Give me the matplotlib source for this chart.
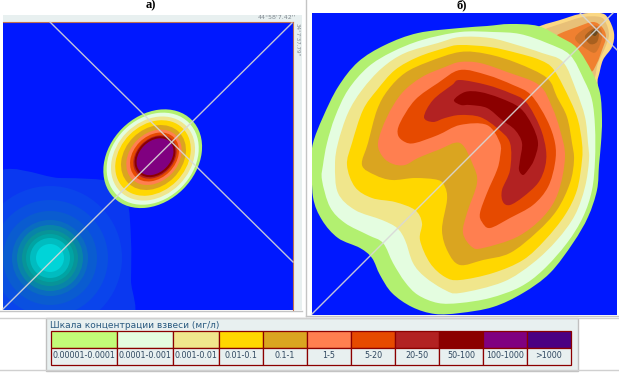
# Suspended matter concentration maps, panels a) and b), with the colour scale below
import numpy as np
import matplotlib
matplotlib.use("Agg")
import matplotlib.pyplot as plt
from matplotlib.path import Path
from matplotlib.patches import PathPatch, Rectangle, Ellipse

###############################################
## Data, in picture pixels
###############################################

scale_labels = ["0.00001-0.0001", "0.0001-0.001", "0.001-0.01", "0.01-0.1", "0.1-1", "1-5",
                "5-20", "20-50", "50-100", "100-1000", ">1000"]
scale_colors = ["#c2fb78", "#e4fde0", "#f0e68c", "#ffd700", "#daa520", "#ff7f50",
                "#e64a00", "#b22222", "#8b0000", "#800080", "#4b0082"]
scale_edges = [50.6, 116.6, 172.7, 218.6, 262.8, 306.7, 351, 395, 439, 483, 527, 571]

map_colors = ["#b2f070", "#e4fde0", "#f0e68c", "#ffd700", "#daa520", "#ff7f50",
              "#e64a00", "#b22222", "#8b0000", "#800080"]

# panel a) plume, one tilted ellipse per band
a_cx = [152.7, 152.7, 153, 153, 153.5, 154, 154.5, 155, 155, 155]
a_cy = [158.7, 158.7, 158.5, 158, 157.5, 157.3, 157, 157, 156.7, 156.7]
a_long = [55, 51, 46.5, 42, 36, 31, 27.5, 24.5, 23, 21]
a_short = [43, 40.5, 37, 33, 28.5, 24, 21, 18.5, 17.5, 15.5]

# panel a) second source, outer to inner
teal_colors = ["#0a44ec", "#0a50e0", "#0a5cd0", "#0a6cc0", "#0884a8", "#089498", "#00a4a4",
               "#00bcc0", "#00d4d8"]
teal_radius = [72, 58, 47, 38, 33, 28, 24, 20, 14]
teal_outer = [(-10, 180), (60, 178), (112, 182), (127, 200), (131, 240), (131, 280), (130, 320), (60, 325), (-10, 320)]

# panel b) tail
tail_colors = ["#fbd884", "#e8c078", "#f08030", "#d2752a", "#a8601f", "#6b4a20"]
tail_bands = [
    [(520, 40), (538, 27), (560, 20), (580, 14), (600, 13), (608, 18), (614, 33), (612, 47), (603, 60), (598, 78), (590, 100)],
    [(525, 40), (543, 30), (563, 23), (583, 17), (600, 17), (606, 23), (609, 35), (605, 48), (598, 63), (594, 80), (585, 90)],
    [(545, 45), (557, 35), (577, 27), (593, 22), (602, 27), (606, 37), (602, 50), (597, 63), (590, 72), (575, 60)],
    [(575, 38), (590, 26), (600, 28), (602, 38), (596, 52), (588, 50)],
    [(585, 36), (595, 28), (599, 32), (597, 42), (590, 44)],
    [(591, 33), (596, 29), (598, 32), (595, 36)],
]

# panel b) plume, outer to inner
b_bands = [
    [(312, 160), (313, 143), (323, 117), (338, 87), (358, 62), (385, 45), (418, 33), (460, 28), (487, 26), (510, 24),
     (538, 26), (560, 37), (577, 48), (592, 72), (600, 93), (602, 120), (601, 143), (599, 165), (597, 190), (588, 217),
     (573, 243), (550, 273), (523, 293), (493, 307), (460, 313), (435, 314), (412, 307), (392, 293), (380, 275),
     (372, 258), (360, 248), (338, 238), (322, 220), (313, 197)],
    [(323, 165), (327, 143), (335, 117), (348, 90), (368, 67), (392, 52), (422, 40), (460, 32), (493, 32), (520, 34),
     (547, 43), (570, 55), (584, 80), (592, 100), (595, 127), (595, 160), (592, 190), (583, 217), (567, 243), (543, 270),
     (520, 287), (490, 298), (460, 303), (438, 303), (418, 295), (405, 282), (393, 263), (383, 243), (368, 235),
     (345, 223), (330, 207), (322, 180)],
    [(335, 165), (338, 143), (348, 113), (362, 90), (382, 68), (405, 53), (438, 43), (460, 37), (490, 38), (517, 45),
     (542, 53), (563, 62), (576, 90), (585, 117), (588, 143), (589, 160), (585, 187), (575, 215), (557, 240), (533, 263),
     (503, 282), (460, 293), (445, 290), (425, 277), (413, 263), (405, 240), (397, 228), (382, 220), (355, 210),
     (338, 193)],
    [(347, 165), (352, 143), (363, 110), (377, 90), (395, 70), (418, 57), (445, 48), (460, 45), (490, 47),
     (517, 53), (540, 60), (554, 70), (570, 100), (578, 120), (582, 143), (582, 160), (577, 190), (565, 215), (545, 240),
     (523, 260), (493, 273), (460, 280), (445, 277), (430, 263), (420, 240), (422, 223), (415, 210), (395, 202),
     (372, 198), (355, 187)],
    [(362, 165), (368, 143), (377, 110), (388, 90), (405, 73), (428, 62), (460, 52), (487, 54), (517, 63), (547, 78),
     (557, 97), (567, 117), (572, 143), (574, 160), (570, 183), (557, 210), (537, 232), (510, 253), (483, 260), (460, 265),
     (448, 252), (442, 230), (447, 200), (445, 187), (438, 180), (415, 178), (392, 180), (375, 175)],
    [(378, 143), (387, 117), (402, 93), (422, 77), (445, 67), (460, 62), (480, 63), (507, 72), (539, 85), (552, 107),
     (560, 130), (565, 157), (558, 193), (543, 217), (517, 237), (483, 248), (472, 247), (463, 233), (467, 213),
     (477, 183), (473, 165), (460, 143), (438, 150), (418, 158), (405, 165), (393, 164), (383, 157)],
    [(398, 135), (400, 123), (415, 100), (438, 83), (460, 70), (487, 75), (513, 85), (531, 95), (547, 120), (555, 143),
     (555, 163), (548, 187), (533, 205), (510, 218), (490, 228), (482, 222), (480, 213), (487, 193), (497, 170),
     (500, 157), (500, 143), (487, 125), (460, 125), (438, 135), (415, 143), (405, 142)],
    [(424, 117), (433, 100), (452, 85), (460, 80), (487, 85), (510, 93), (526, 102), (540, 127), (546, 150), (545, 167),
     (538, 183), (523, 197), (510, 205), (503, 202), (502, 190), (510, 170), (510, 143), (497, 128), (480, 117),
     (460, 115), (445, 118), (433, 122)],
    [(454, 100), (465, 92), (480, 92), (500, 98), (520, 108), (532, 125), (538, 143), (534, 160), (528, 170), (523, 175),
     (519, 170), (520, 160), (522, 143), (515, 130), (502, 120), (487, 108), (470, 105), (461, 105)],
]

###############################################
## Helpers
###############################################


def smooth_path(points):
    # closed bezier through the traced points
    pts = np.array(points, dtype=float)
    n = len(pts)
    verts = [pts[0]]
    codes = [Path.MOVETO]
    for i in range(n):
        p0, p1, p2, p3 = pts[i - 1], pts[i], pts[(i + 1) % n], pts[(i + 2) % n]
        verts += [p1 + (p2 - p0) / 6, p2 - (p3 - p1) / 6, p2]
        codes += [Path.CURVE4] * 3
    return Path(verts, codes)


###############################################
## Figure
###############################################

fig = plt.figure(figsize=(6.19, 3.73), dpi=100)
ax = fig.add_axes([0, 0, 1, 1])
ax.set_xlim(0, 619)
ax.set_ylim(373, 0)
ax.axis("off")

blue = "#0018ff"
line_color = "#d8d8d8"

# page rules
ax.plot([306, 306], [0, 316], color="#c4c4c4", lw=1)
ax.plot([306, 619], [316, 316], color="#c4c4c4", lw=1)
ax.plot([0, 302], [310.5, 310.5], color="#c4c4c4", lw=1)
ax.plot([0, 619], [317.5, 317.5], color="#d0d0d0", lw=1)
ax.plot([0, 619], [369.5, 369.5], color="#d0d0d0", lw=1)

# panel a)
ax.add_patch(Rectangle((3, 15), 299, 295, facecolor="#e8f0f0", edgecolor="none"))
panel_a = Rectangle((3, 22), 290, 288, facecolor=blue, edgecolor="none")
ax.add_patch(panel_a)
ax.plot([3, 293], [22, 22], color="#c07050", lw=0.8)
ax.plot([293, 293], [22, 310], color="#c07050", lw=0.8)

p = PathPatch(smooth_path(teal_outer), facecolor="#0a38f0", edgecolor="none")
ax.add_patch(p)
p.set_clip_path(panel_a)
for r, c in zip(teal_radius, teal_colors):
    e = Ellipse((50, 258), 2 * r, 2 * r, facecolor=c, edgecolor="none")
    ax.add_patch(e)
    e.set_clip_path(panel_a)

for i in range(len(map_colors)):
    ax.add_patch(Ellipse((a_cx[i], a_cy[i]), 2 * a_long[i], 2 * a_short[i], angle=-45,
                         facecolor=map_colors[i], edgecolor="none"))

ax.plot([3, 292], [309, 23], color=line_color, lw=1, alpha=0.9)
ax.plot([50, 293], [22, 262], color=line_color, lw=1, alpha=0.9)

ax.text(296, 19, "44°58'7.42''", fontsize=4.5, color="#808890", ha="right", va="baseline")
ax.text(297.5, 23, "34°7'37.79''", fontsize=4, color="#808890", rotation=-90, ha="center", va="top")

# panel b)
panel_b = Rectangle((312, 13), 305, 302, facecolor=blue, edgecolor="none")
ax.add_patch(panel_b)
for pts, c in zip(tail_bands, tail_colors):
    p = PathPatch(smooth_path(pts), facecolor=c, edgecolor="none")
    ax.add_patch(p)
    p.set_clip_path(panel_b)
for pts, c in zip(b_bands, map_colors):
    p = PathPatch(smooth_path(pts), facecolor=c, edgecolor="none")
    ax.add_patch(p)
    p.set_clip_path(panel_b)
ax.plot([312, 613], [314, 13], color=line_color, lw=1, alpha=0.9)
ax.plot([580, 617], [13, 50], color=line_color, lw=1, alpha=0.9)

# panel letters
ax.text(151, 5.5, "а)", fontsize=9, fontweight="bold", family="Liberation Serif", ha="center", va="center")
ax.text(462, 5.5, "б)", fontsize=9, fontweight="bold", family="Liberation Serif", ha="center", va="center")

# colour scale
ax.add_patch(Rectangle((45.5, 317.5), 532, 53.5, facecolor="#e8f0f0", edgecolor="#c0c0c0", lw=1))
ax.text(50, 325, "Шкала концентрации взвеси (мг/л)", fontsize=6.5, color="#2a5a80", ha="left", va="center")
for i in range(len(scale_labels)):
    x0, x1 = scale_edges[i], scale_edges[i + 1]
    ax.add_patch(Rectangle((x0, 330.5), x1 - x0, 17, facecolor=scale_colors[i], edgecolor="#8b0000", lw=0.9))
    ax.add_patch(Rectangle((x0, 347.5), x1 - x0, 17, facecolor="#e8f0f0", edgecolor="#8b0000", lw=0.9))
    ax.text((x0 + x1) / 2, 356, scale_labels[i], fontsize=5.8, color="#304860", ha="center", va="center")

fig.savefig("out.png", dpi=100)
